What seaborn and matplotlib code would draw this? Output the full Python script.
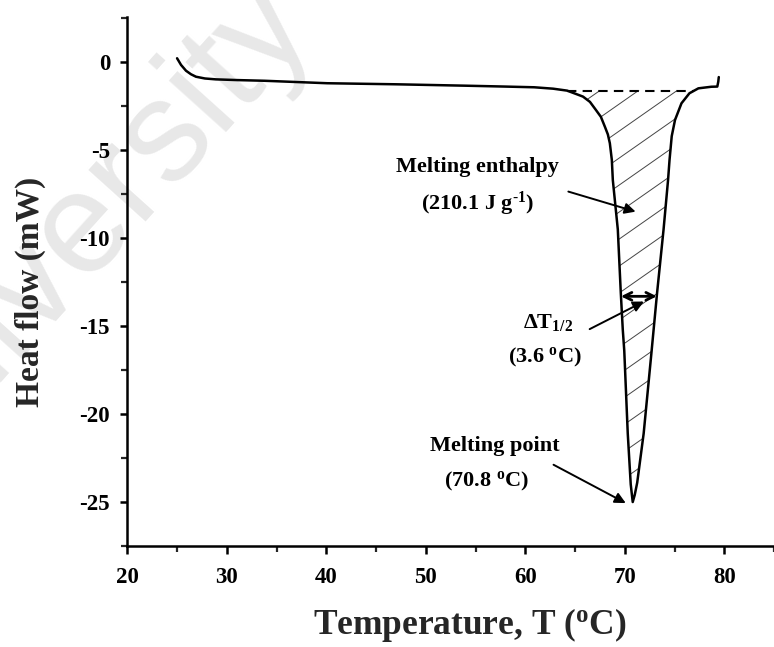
import numpy as np
import matplotlib
matplotlib.use("Agg")
import matplotlib.pyplot as plt
import seaborn as sns
from matplotlib.path import Path
from matplotlib.patches import PathPatch

# DSC heating scan: temperature (°C) and heat flow (mW)
temperature = [25.0, 25.4, 25.9, 26.4, 26.9, 27.8, 28.9, 31.0, 33.8, 40.1, 47.0,
               54.0, 58.0, 60.9, 62.8, 64.2, 65.1, 65.8, 66.5, 67.1, 67.6, 68.0,
               68.3, 68.5, 68.7, 68.8, 69.3, 69.6, 69.8, 69.95, 70.3, 70.6, 70.8,
               71.0, 71.25, 71.9, 72.7, 72.9, 73.25, 73.9, 74.35, 74.5, 74.72,
               75.05, 75.7, 76.5, 77.4, 78.7, 79.3, 79.4, 79.45]
heat_flow = [0.23, -0.15, -0.48, -0.68, -0.82, -0.92, -0.97, -1.01, -1.05, -1.19, -1.25,
             -1.33, -1.38, -1.42, -1.50, -1.61, -1.80, -1.95, -2.25, -2.71, -3.10, -3.66,
             -4.10, -4.60, -5.55, -6.70, -9.50, -13.10, -15.20, -16.40, -21.10, -24.00, -25.00,
             -24.60, -23.90, -21.10, -16.40, -15.20, -13.10, -9.50, -6.70, -5.55, -4.20,
             -3.28, -2.33, -1.76, -1.48, -1.39, -1.38, -1.10, -0.84]

baseline_level = -1.61
peak_temperature = 70.8
peak_heat_flow = -25.0
x_ticks = [20, 30, 40, 50, 60, 70, 80]
y_ticks = [0, -5, -10, -15, -20, -25]

sns.set_theme(style="ticks")
plt.rcParams.update({
    "font.family": ["Liberation Serif", "DejaVu Serif"],
    "font.weight": "bold",
    "axes.unicode_minus": False,
    "mathtext.fontset": "custom",
    "mathtext.rm": "Liberation Serif:bold",
    "mathtext.it": "Liberation Serif:italic:bold",
    "mathtext.bf": "Liberation Serif:bold",
    "axes.linewidth": 1.8,
    "xtick.major.width": 1.8, "ytick.major.width": 1.8,
    "xtick.minor.width": 1.6, "ytick.minor.width": 1.6,
    "xtick.major.size": 5.4, "ytick.major.size": 5.4,
    "xtick.minor.size": 4.0, "ytick.minor.size": 4.0,
    "xtick.direction": "out", "ytick.direction": "out",
})

fig = plt.figure(figsize=(7.74, 6.47), dpi=100)
fig.patch.set_facecolor("white")
ax = fig.add_axes([0.1645, 0.1561, 0.8355, 0.8172])
ax.patch.set_facecolor("none")

# faint watermark behind the plot
fig.text(0.405, 0.965, "University", rotation=48, rotation_mode="anchor",
         ha="right", va="baseline", fontsize=104, color="#e8e8e8",
         family="Liberation Sans", weight="normal", zorder=-5)

sns.lineplot(x=temperature, y=heat_flow, ax=ax, color="black", linewidth=1.8,
             estimator=None, sort=False, zorder=5)

ax.set_xlim(20, 84.05)
ax.set_ylim(-27.48, 2.56)
ax.set_xticks(x_ticks)
ax.set_yticks(y_ticks)
ax.set_xticks([t + 5 for t in x_ticks], minor=True)
ax.set_yticks([v - 2.5 for v in y_ticks] + [2.5], minor=True)
ax.tick_params(axis="x", which="major", labelsize=16.5, pad=9.5, colors="black")
ax.tick_params(axis="y", which="major", labelsize=16.5, pad=7, colors="black")
for lab in ax.get_xticklabels() + ax.get_yticklabels():
    lab.set_fontweight("bold")
sns.despine(ax=ax)
for s in ("left", "bottom"):
    ax.spines[s].set_color("black")

ax.set_xlabel(r"Temperature, T ($^{\mathrm{o}}$C)", fontsize=25.5, fontweight="bold", labelpad=13)
ax.set_ylabel("Heat flow (mW)", fontsize=24, fontweight="bold", labelpad=24)
ax.xaxis.label.set_x(0.53)
ax.yaxis.label.set_y(0.481)

# melting region bounded by the interpolated baseline
T = np.asarray(temperature)
H = np.asarray(heat_flow)
imin = int(np.argmin(H))
TL, HL = T[:imin + 1], H[:imin + 1]
TR, HR = T[imin:], H[imin:]
t_start = float(np.interp(baseline_level, HL[::-1], TL[::-1]))
t_end = float(np.interp(baseline_level, HR, TR))
inside = (T > t_start) & (T < t_end)
verts = ([(t_start, baseline_level)] + list(zip(T[inside], H[inside]))
         + [(t_end, baseline_level), (t_start, baseline_level)])
region = PathPatch(Path(verts, closed=True), facecolor="none", edgecolor="none",
                   transform=ax.transData)
ax.add_patch(region)

# slanted hatch lines clipped to the melting region
to_disp = ax.transData
to_data = ax.transData.inverted()
bb = to_disp.transform(np.array(verts))
x0, x1 = bb[:, 0].min() - 5, bb[:, 0].max() + 5
y0, y1 = bb[:, 1].min() - 5, bb[:, 1].max() + 5
slope, step = 0.70, 27.0
for c in np.arange(y0 - slope * x1, y1 - slope * x0, step):
    pts = to_data.transform(np.array([[x0, slope * x0 + c], [x1, slope * x1 + c]]))
    ln, = ax.plot(pts[:, 0], pts[:, 1], color="#444444", linewidth=0.7, zorder=3)
    ln.set_clip_path(region)

ax.plot([t_start, t_end], [baseline_level, baseline_level], color="black",
        linewidth=1.5, dashes=(4.5, 3), zorder=4)

# half-height width of the melting peak
half_level = (peak_heat_flow + baseline_level) / 2
t_left = float(np.interp(half_level, HL[::-1], TL[::-1]))
t_right = float(np.interp(half_level, HR, TR))
ax.annotate("", xy=(t_left, half_level), xytext=(t_right, half_level),
            arrowprops=dict(arrowstyle="<->", color="black", lw=2.0,
                            mutation_scale=14, shrinkA=0, shrinkB=0), zorder=6)

arrow_kw = dict(arrowstyle="-|>", color="black", lw=1.4, mutation_scale=16,
                shrinkA=0, shrinkB=0)
ax.annotate("", xy=(71.09, -8.49), xytext=(64.33, -7.35), arrowprops=arrow_kw, zorder=6)
ax.annotate("", xy=(71.92, -13.6), xytext=(66.47, -15.17), arrowprops=arrow_kw, zorder=6)
ax.annotate("", xy=(peak_temperature - 0.7, peak_heat_flow - 0.06), xytext=(62.84, -22.88),
            arrowprops=arrow_kw, zorder=6)

txt = dict(fontsize=16, fontweight="bold", ha="center", va="center", color="black")
ax.text(55.17, -5.95, "Melting enthalpy", **txt)
ax.text(55.17, -8.05, r"(210.1 J g$^{\text{-}\mathrm{1}}$)", **txt)
ax.text(62.25, -14.81, r"$\Delta$T$_{\mathrm{1/2}}$", **txt)
ax.text(62.02, -16.8, r"(3.6 $^{\mathrm{o}}$C)", **txt)
ax.text(56.9, -21.8, "Melting point", **txt)
ax.text(56.06, -23.85, r"(70.8 $^{\mathrm{o}}$C)", **txt)

fig.savefig("out.png", dpi=100)
